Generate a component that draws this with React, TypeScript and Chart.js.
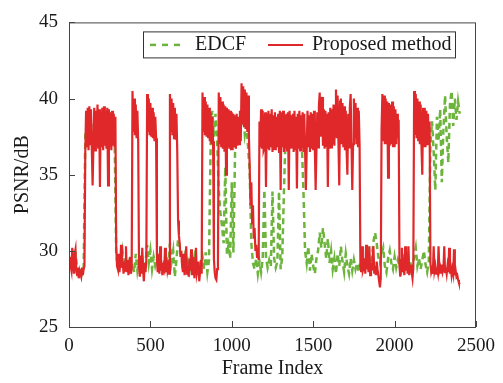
import React, { useEffect, useRef } from "react";
import { Chart, registerables } from "chart.js";

Chart.register(...registerables);

// ---- data ----
// EDCF sampled every 10 frames, Proposed method every 5 frames
const EDCF_STEP = 10;
const PROPOSED_STEP = 5;
const X_TICKS = [0, 500, 1000, 1500, 2000, 2500];
const Y_TICKS = [25, 30, 35, 40, 45];
const SERIES_LABELS = ["EDCF", "Proposed method"];

const EDCF = [
  29.4, 29.0, 29.8, 28.7, 29.9, 28.9, 28.6, 28.9, 28.5, 28.8,
  37.5, 38.5, 37.5, 38.8, 37.6, 38.2, 38.6, 37.5, 38.8, 37.8,
  38.7, 37.6, 38.8, 37.5, 38.0, 38.6, 37.5, 38.4, 37.6, 29.8,
  29.0, 29.5, 28.8, 29.9, 29.0, 29.2, 28.8, 29.3, 28.9, 29.2,
  28.6, 29.8, 28.7, 29.4, 28.8, 29.5, 28.6, 29.2, 30.4, 29.2,
  30.0, 28.8, 29.6, 29.0, 29.4, 28.9, 29.6, 28.8, 29.3, 28.9,
  29.7, 28.9, 30.5, 29.3, 30.0, 28.3, 29.4, 30.8, 30.2, 29.5,
  29.0, 29.6, 28.9, 29.3, 28.7, 29.5, 29.0, 29.6, 28.8, 29.2,
  28.6, 29.0, 29.6, 28.8, 29.9, 28.6, 29.4, 37.0, 39.2, 37.5,
  39.0, 37.2, 34.0, 32.5, 31.6, 30.5, 35.5, 29.8, 30.4, 29.5,
  34.5, 29.9, 36.5, 37.5, 38.2, 37.3, 38.8, 39.0, 37.6, 38.2,
  36.8, 35.2, 30.5, 29.2, 28.8, 29.5, 28.5, 29.3, 28.6, 29.5,
  34.0, 29.6, 28.9, 29.4, 29.0, 33.9, 29.5, 28.9, 29.3, 33.9,
  28.8, 29.6, 33.8, 37.5, 38.0, 37.5, 38.3, 37.2, 38.5, 37.4,
  38.0, 37.6, 38.2, 37.0, 34.0, 30.0, 29.2, 30.3, 28.7, 29.8,
  29.0, 28.5, 29.5, 30.0, 31.2, 30.2, 31.5, 30.5, 29.5, 30.8,
  29.2, 30.0, 28.8, 29.5, 28.5, 29.8, 29.0, 30.3, 29.3, 28.6,
  29.8, 29.0, 28.5, 29.5, 28.7, 29.4, 28.8, 29.2, 28.6, 29.3,
  28.8, 29.6, 29.0, 29.4, 29.9, 29.0, 29.6, 30.6, 31.2, 30.5,
  29.6, 29.2, 29.8, 30.2, 29.0, 28.6, 29.5, 30.0, 29.2, 28.8,
  29.6, 28.9, 29.4, 29.0, 28.7, 29.8, 28.9, 29.2, 29.9, 28.7,
  29.3, 28.9, 29.6, 30.2, 29.0, 29.5, 28.8, 29.4, 30.0, 29.1,
  28.6, 29.3, 37.0, 38.5, 36.5, 34.0, 38.8, 37.2, 39.3, 34.5,
  38.0, 40.2, 37.5, 35.8, 39.6, 40.5, 38.2, 40.0, 38.6, 39.8,
  39.0,
];

const PROPOSED = [
  29.6, 29.3, 29.0, 28.7, 30.2, 29.4, 28.5, 29.8, 30.1, 28.6, 28.4, 28.9, 28.2, 28.7, 28.5, 28.3, 28.9, 28.4, 28.8, 29.0,
  36.5, 39.2, 36.8, 39.4, 36.6, 39.5, 37.0, 39.3, 36.7, 34.3, 36.9, 39.4, 36.6, 39.2, 36.8, 39.6, 36.7, 39.3, 34.2, 39.1,
  36.8, 39.4, 36.6, 39.5, 36.9, 39.2, 36.7, 39.4, 34.3, 39.3, 36.8, 39.1, 36.6, 39.2, 36.9, 39.0, 36.8, 38.8, 30.2, 29.0,
  28.8, 29.8, 28.6, 29.2, 30.4, 28.9, 29.3, 28.5, 29.0, 28.7, 30.3, 28.6, 29.4, 28.4, 28.9, 29.6, 28.5, 28.8, 40.5, 37.8,
  40.0, 37.6, 39.6, 37.4, 39.2, 37.2, 29.0, 28.3, 29.7, 28.5, 30.2, 28.8, 28.0, 29.2, 28.6, 29.4, 40.3, 37.8, 40.0, 37.6,
  39.7, 37.5, 39.4, 37.4, 39.1, 37.2, 38.8, 37.4, 29.6, 28.6, 29.8, 28.5, 30.3, 28.7, 29.2, 28.4, 29.0, 28.8, 30.2, 28.6,
  29.4, 28.7, 29.0, 28.5, 40.3, 37.8, 40.0, 37.6, 39.7, 37.4, 39.4, 37.3, 39.0, 36.5, 32.0, 31.0, 30.5, 29.6, 30.0, 29.0,
  28.6, 29.8, 28.4, 29.2, 30.3, 28.5, 29.0, 28.3, 29.5, 28.7, 30.1, 28.4, 28.9, 29.6, 28.2, 29.1, 30.2, 28.5, 28.8, 29.3,
  28.0, 28.6, 29.4, 28.5, 40.4, 37.8, 40.1, 37.6, 39.8, 37.5, 39.6, 37.4, 39.4, 37.2, 39.1, 37.0, 38.8, 37.2, 29.5, 28.6,
  28.2, 28.1, 28.8, 29.2, 40.4, 37.0, 40.1, 36.8, 39.8, 36.7, 39.6, 36.5, 39.5, 35.0, 39.4, 36.8, 39.3, 36.7, 39.2, 36.6,
  39.1, 36.6, 39.0, 36.8, 38.9, 36.7, 39.0, 36.9, 38.8, 37.0, 39.2, 37.2, 41.0, 38.3, 40.8, 38.2, 40.6, 38.0, 40.4, 37.8,
  40.2, 37.5, 35.5, 33.0, 34.5, 31.8, 33.0, 30.8, 31.5, 30.0, 30.4, 29.6, 29.8, 29.4, 38.5, 36.8, 39.3, 36.7, 39.2, 36.6,
  36.8, 39.1, 34.2, 39.0, 36.7, 39.2, 36.6, 39.0, 36.8, 39.3, 36.5, 38.9, 36.7, 39.1, 36.6, 38.8, 36.8, 39.0, 36.5, 39.2,
  34.0, 39.1, 36.8, 39.2, 36.5, 38.9, 36.7, 39.0, 36.6, 39.1, 34.0, 39.2, 36.7, 38.9, 36.8, 39.0, 36.5, 39.2, 36.6, 38.8,
  34.1, 39.0, 36.7, 39.2, 36.6, 38.9, 36.8, 39.1, 36.5, 39.0, 36.7, 34.0, 36.6, 39.2, 36.8, 38.9, 36.5, 39.1, 36.7, 39.0,
  36.6, 39.2, 36.8, 34.0, 36.7, 39.1, 36.8, 39.5, 40.4, 37.5, 39.8, 40.1, 36.9, 39.3, 36.7, 39.2, 36.8, 39.0, 34.2, 39.1,
  36.7, 39.4, 36.8, 39.3, 37.0, 39.6, 36.9, 39.5, 40.6, 37.4, 40.2, 37.2, 34.3, 39.8, 40.0, 37.0, 39.7, 36.8, 39.5, 36.6,
  39.2, 36.6, 35.0, 39.0, 36.8, 39.4, 40.3, 37.2, 34.0, 37.0, 40.0, 37.4, 39.7, 37.0, 39.4, 36.8, 39.2, 36.9, 29.0, 28.6,
  30.3, 28.7, 28.9, 29.5, 28.5, 30.4, 28.8, 29.1, 28.6, 30.3, 28.4, 29.2, 28.7, 29.6, 30.3, 28.5, 29.0, 28.4, 29.3, 28.8,
  28.4, 28.0, 27.6, 28.2, 38.0, 40.3, 37.2, 40.2, 37.0, 40.0, 37.0, 39.8, 34.8, 39.7, 36.9, 39.6, 37.0, 39.8, 36.8, 39.5,
  36.8, 39.3, 37.0, 39.0, 37.4, 38.6, 29.0, 28.3, 29.4, 30.2, 28.6, 29.0, 28.4, 30.3, 28.7, 29.2, 28.5, 30.3, 28.4, 29.0,
  29.1, 28.6, 28.2, 28.9, 40.5, 37.6, 40.3, 37.4, 40.0, 37.2, 39.8, 37.0, 39.6, 36.9, 35.0, 39.4, 36.8, 39.4, 36.8, 39.2,
  37.0, 39.0, 37.0, 38.5, 29.2, 28.6, 28.8, 28.5, 30.3, 28.7, 29.0, 28.5, 28.9, 28.6, 30.3, 28.7, 28.9, 28.5, 29.1, 28.6,
  28.8, 30.3, 28.6, 28.9, 28.5, 29.0, 28.6, 30.2, 28.5, 28.9, 28.4, 28.8, 28.5, 30.1, 28.4, 28.7, 28.3, 28.4, 28.1, 27.9,
  27.8,
];

const GREEN = "#6cb43c";
const RED = "#e0282a";
const FONT = "'Liberation Serif', 'Times New Roman', serif";
const TEXT = "#1a1a1a";

const toPoints = (vals: number[], step: number) =>
  vals.map((v, i) => ({ x: i * step, y: v }));

const framePlugin = {
  id: "frameTicks",
  afterDatasetsDraw(chart: any) {
    const { ctx, chartArea: a, scales } = chart;
    const x = scales.x;
    const y = scales.y;
    ctx.save();
    ctx.strokeStyle = "#444";
    ctx.lineWidth = 1;
    ctx.strokeRect(a.left + 0.5, a.top + 0.5, a.right - a.left - 1, a.bottom - a.top);
    ctx.beginPath();
    X_TICKS.forEach((v) => {
      const px = Math.round(x.getPixelForValue(v)) + 0.5;
      ctx.moveTo(px, a.bottom);
      ctx.lineTo(px, a.bottom - 6);
    });
    Y_TICKS.forEach((v) => {
      const py = Math.round(y.getPixelForValue(v)) + 0.5;
      ctx.moveTo(a.left, py);
      ctx.lineTo(a.left + 6, py);
    });
    ctx.stroke();
    ctx.restore();
  },
};

const legendPlugin = {
  id: "boxLegend",
  afterDraw(chart: any) {
    const { ctx, chartArea: a } = chart;
    const bx = a.left + 74;
    const by = a.top + 9;
    const bw = 312;
    const bh = 26;
    ctx.save();
    ctx.fillStyle = "#fff";
    ctx.fillRect(bx, by, bw, bh);
    ctx.strokeStyle = "#333";
    ctx.lineWidth = 1;
    ctx.strokeRect(bx + 0.5, by + 0.5, bw, bh);
    const cy = by + bh / 2 + 0.5;
    ctx.strokeStyle = GREEN;
    ctx.lineWidth = 2.5;
    ctx.setLineDash([6, 6]);
    ctx.beginPath();
    ctx.moveTo(bx + 7, cy);
    ctx.lineTo(bx + 43, cy);
    ctx.stroke();
    ctx.setLineDash([]);
    ctx.fillStyle = TEXT;
    ctx.font = `20px ${FONT}`;
    ctx.textBaseline = "middle";
    ctx.textAlign = "left";
    ctx.fillText(SERIES_LABELS[0], bx + 52, cy);
    ctx.strokeStyle = RED;
    ctx.lineWidth = 2;
    ctx.beginPath();
    ctx.moveTo(bx + 125, cy);
    ctx.lineTo(bx + 160, cy);
    ctx.stroke();
    ctx.fillText(SERIES_LABELS[1], bx + 169, cy);
    ctx.restore();
  },
};

export default function App() {
  const ref = useRef<HTMLCanvasElement | null>(null);

  useEffect(() => {
    if (!ref.current) return;
    const chart = new Chart(ref.current, {
      type: "line",
      data: {
        datasets: [
          {
            label: SERIES_LABELS[0],
            data: toPoints(EDCF, EDCF_STEP),
            borderColor: GREEN,
            borderWidth: 2.5,
            borderDash: [6, 4],
            pointRadius: 0,
            tension: 0,
            fill: false,
            order: 2,
          },
          {
            label: SERIES_LABELS[1],
            data: toPoints(PROPOSED, PROPOSED_STEP),
            borderColor: RED,
            borderWidth: 2.2,
            pointRadius: 0,
            tension: 0,
            fill: false,
            order: 1,
          },
        ],
      },
      options: {
        animation: false,
        responsive: false,
        devicePixelRatio: 1,
        layout: { padding: { top: 13, right: 26, left: 0, bottom: 0 } },
        plugins: {
          legend: { display: false },
          tooltip: { enabled: false },
        },
        scales: {
          x: {
            type: "linear",
            min: 0,
            max: 2500,
            grid: { display: false, drawTicks: false },
            border: { display: false },
            afterBuildTicks: (s: any) => {
              s.ticks = X_TICKS.map((v) => ({ value: v }));
            },
            afterFit: (s: any) => {
              s.height = 56;
            },
            ticks: {
              color: TEXT,
              font: { family: FONT, size: 19 },
              padding: 8,
              maxRotation: 0,
              autoSkip: false,
              callback: (v: any) => String(v),
            },
            title: {
              display: true,
              text: "Frame Index",
              color: TEXT,
              font: { family: FONT, size: 20 },
              padding: { top: 0, bottom: 2 },
            },
          },
          y: {
            type: "linear",
            min: 25,
            max: 45,
            grid: { display: false, drawTicks: false },
            border: { display: false },
            afterBuildTicks: (s: any) => {
              s.ticks = Y_TICKS.map((v) => ({ value: v }));
            },
            afterFit: (s: any) => {
              s.width = 69;
            },
            ticks: {
              color: TEXT,
              font: { family: FONT, size: 19 },
              padding: 11,
              autoSkip: false,
              callback: (v: any) => String(v),
            },
            title: {
              display: true,
              text: "PSNR/dB",
              color: TEXT,
              font: { family: FONT, size: 20 },
              padding: { top: 11, bottom: 0 },
            },
          },
        },
      },
      plugins: [framePlugin, legendPlugin],
    });
    return () => chart.destroy();
  }, []);

  return (
    <div style={{ position: "absolute", left: 0, top: 0, width: 503, height: 383, background: "#fff" }}>
      <canvas ref={ref} width={503} height={383} style={{ display: "block" }} />
    </div>
  );
}
